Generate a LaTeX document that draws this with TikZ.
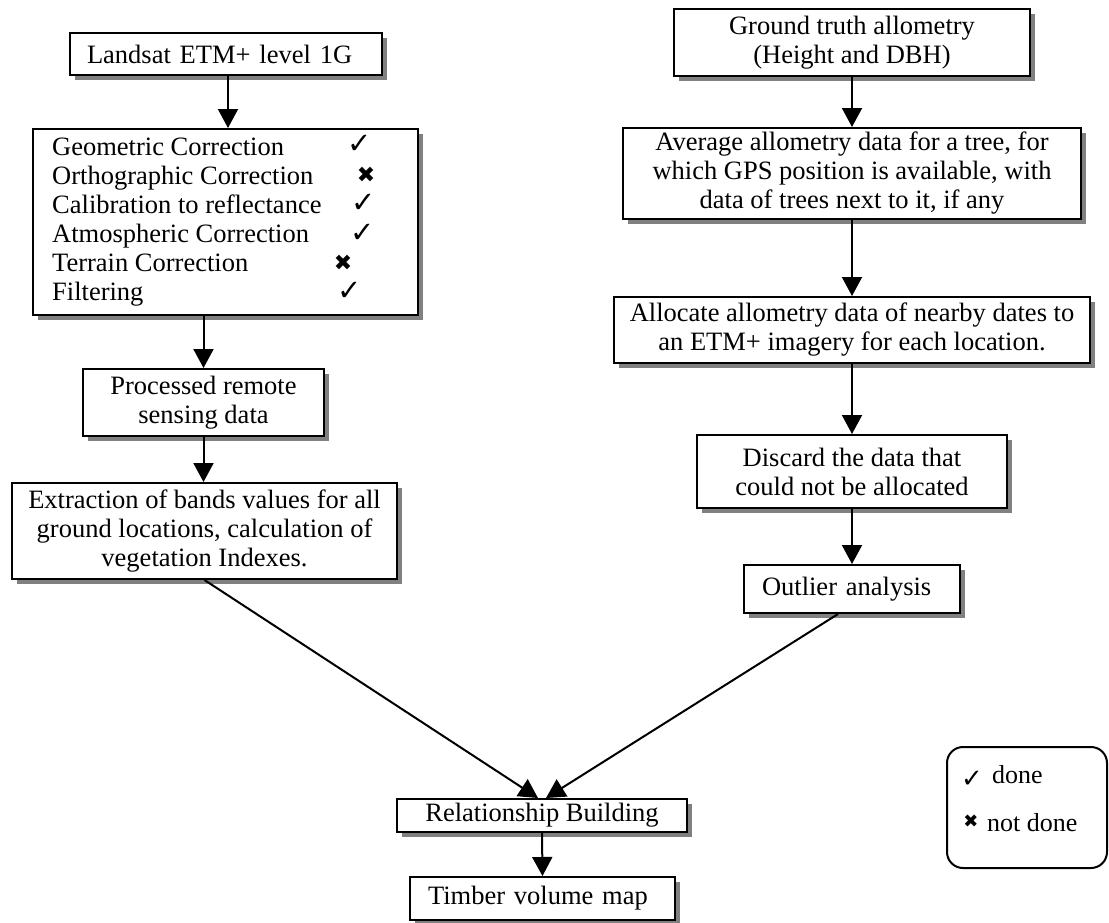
\documentclass[tikz,border=0pt]{standalone}
\usepackage{fontspec}
\setmainfont{Liberation Serif}
\newfontfamily\dvsfont{DejaVu Sans}
\usetikzlibrary{arrows.meta,shadows}
\begin{document}
\begin{tikzpicture}[x=1pt,y=-1pt,
  flowbox/.style={draw=black, line width=2pt, fill=white, inner sep=0pt, align=center,
     font=\fontsize{26.5}{29}\selectfont,
     drop shadow={shadow xshift=5pt, shadow yshift=-5pt, opacity=1, fill=black!50}},
  leftbox/.style={flowbox, align=left, inner xsep=18pt, inner ysep=0pt},
  arr/.style={line width=2pt, -{Triangle[length=19pt,width=20pt]}},
  itemtext/.style={anchor=base west, inner sep=0pt, font=\fontsize{26.5}{29}\selectfont},
  ck/.style={inner sep=0pt, font=\dvsfont\fontsize{29}{29}\selectfont},
  cx/.style={inner sep=0pt, font=\dvsfont\fontsize{22}{22}\selectfont},
  legtext/.style={anchor=base west, inner sep=0pt, font=\fontsize{26}{29}\selectfont}]
\useasboundingbox (0,0) rectangle (1109,922);

% left column
\node[leftbox, inner xsep=17pt, text width=278pt, minimum height=42pt] (land) at (226,54) {Landsat ETM+ level 1G};
\node[flowbox, minimum width=385pt, minimum height=186pt] (chk) at (225.5,222) {};
\node[itemtext] (c1) at (52,155) {Geometric Correction};
\node[itemtext] (c2) at (52,184) {Orthographic Correction};
\node[itemtext] (c3) at (52,213) {Calibration to reflectance};
\node[itemtext] (c4) at (52,242) {Atmospheric Correction};
\node[itemtext] (c5) at (52,271) {Terrain Correction};
\node[itemtext] (c6) at (52,300) {Filtering};
\node[ck] (m1) at (360,144) {✓};
\node[cx] (m2) at (366,175) {✖};
\node[ck] (m3) at (364,203) {✓};
\node[ck] (m4) at (363,233) {✓};
\node[cx] (m5) at (343,263) {✖};
\node[ck] (m6) at (350,291) {✓};
\node[flowbox, minimum width=241pt, minimum height=67pt] (proc) at (203.5,402.5) {Processed remote\\sensing data};
\node[flowbox, minimum width=385pt, minimum height=96pt] (ext) at (204.5,531) {Extraction of bands values for all\\ground locations, calculation of\\vegetation Indexes.};

% right column
\node[flowbox, minimum width=356pt, minimum height=67pt] (gt) at (852,42.5) {Ground truth allometry\\(Height and DBH)};
\node[flowbox, minimum width=458pt, minimum height=91pt] (avg) at (852,173.5) {Average allometry data for a tree, for\\which GPS position is available, with\\data of trees next to it, if any};
\node[flowbox, minimum width=476pt, minimum height=66pt] (alc) at (852,330) {Allocate allometry data of nearby dates to\\an ETM+ imagery for each location.};
\node[flowbox, minimum width=310pt, minimum height=73pt] (dis) at (852,471.5) {Discard the data that\\could not be allocated};
\node[leftbox, text width=180pt, minimum height=48pt] (out) at (852,589) {Outlier analysis};

% bottom
\node[flowbox, minimum width=290pt, minimum height=33pt] (rel) at (542,815.5) {Relationship Building};
\node[leftbox, text width=229pt, minimum height=43pt] (tim) at (542.5,898.5) {Timber volume map};

% legend
\node[draw, rounded corners=16pt, line width=2pt, minimum width=160pt, minimum height=121pt, inner sep=0pt] (leg) at (1027,807.5) {};
\node[ck, font=\dvsfont\fontsize{26}{26}\selectfont] (l1) at (972,779) {✓};
\node[legtext] (l2) at (992,783) {done};
\node[cx, font=\dvsfont\fontsize{18}{18}\selectfont] (l3) at (971,821) {✖};
\node[legtext] (l4) at (987,831) {not done};

% connectors
\draw[arr] ([xshift=2pt]land.south) -- ([xshift=2pt]land.south |- chk.north);
\draw[arr] (chk.south -| proc.north) -- (proc.north);
\draw[arr] (proc.south) -- (proc.south |- ext.north);
\draw[arr] (gt.south) -- (avg.north);
\draw[arr] (avg.south) -- (alc.north);
\draw[arr] (alc.south) -- (dis.north);
\draw[arr] (dis.south) -- (out.north);
\draw[arr] (ext.south) -- ([xshift=-4pt]rel.north);
\draw[arr] ([xshift=-14pt]out.south) -- ([xshift=4pt]rel.north);
\draw[arr] (rel.south) -- (tim.north);
\end{tikzpicture}
\end{document}
